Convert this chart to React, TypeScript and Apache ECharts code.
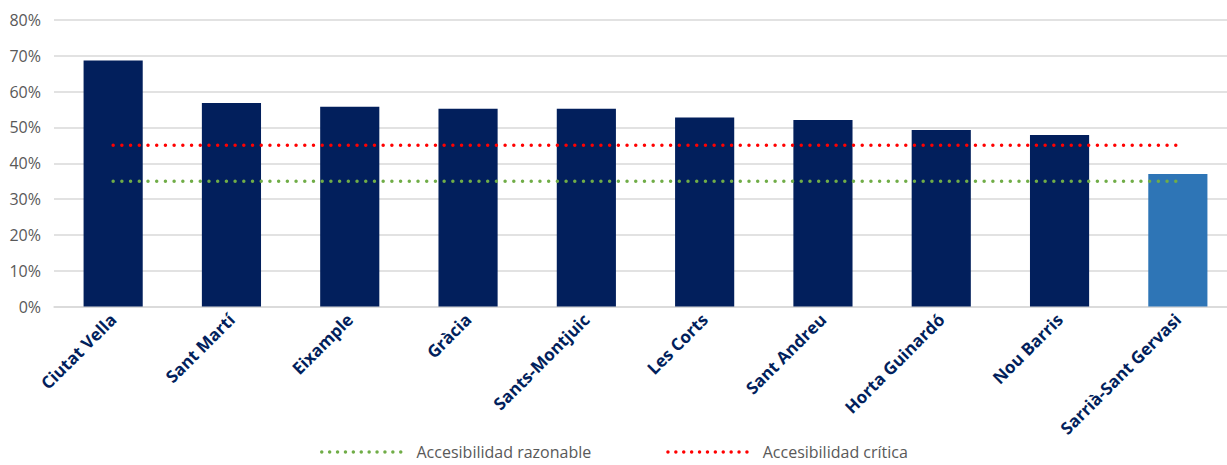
import React, { useEffect, useRef } from "react";
import * as echarts from "echarts";

const categories = [
  "Ciutat Vella",
  "Sant Martí",
  "Eixample",
  "Gràcia",
  "Sants-Montjuic",
  "Les Corts",
  "Sant Andreu",
  "Horta Guinardó",
  "Nou Barris",
  "Sarrià-Sant Gervasi",
];
const accessValues = [68.7, 56.8, 55.8, 55.2, 55.2, 52.8, 52.1, 49.3, 47.9, 37.0];
const highlightIndex = 9;
const reasonableLevel = categories.map(() => 35);
const criticalLevel = categories.map(() => 45);
const yTicks = { min: 0, max: 80, interval: 10 };
const legendNames = ["Accesibilidad razonable", "Accesibilidad crítica"];

const NAVY = "#021F5C";
const LIGHT = "#2E75B6";
const GREEN = "#70AD47";
const RED = "#FF0000";
const FONT = "'Open Sans', 'Noto Sans', sans-serif";

// dotted legend icon: 11 round dots
const DOT_R = 1.75;
const DOT_STEP = 7.9;
const DOT_COUNT = 11;
let dotPath = "path://";
for (let i = 0; i < DOT_COUNT; i++) {
  const cx = DOT_R + i * DOT_STEP;
  dotPath += `M${cx - DOT_R},${DOT_R}a${DOT_R},${DOT_R} 0 1,0 ${2 * DOT_R},0a${DOT_R},${DOT_R} 0 1,0 ${-2 * DOT_R},0Z`;
}
const ICON_W = 2 * DOT_R + (DOT_COUNT - 1) * DOT_STEP;
const ICON_H = 2 * DOT_R;

export default function App() {
  const ref = useRef<HTMLDivElement>(null);
  useEffect(() => {
    if (!ref.current) return;
    const chart = echarts.init(ref.current, undefined, { renderer: "svg" });
    const dotted = (color: string) => ({
      color,
      width: 3.5,
      type: [0.01, 8.7] as any,
      cap: "round" as any,
    });
    chart.setOption({
      animation: false,
      textStyle: { fontFamily: FONT },
      grid: { left: 54, top: 20, width: 1183, height: 286.5, containLabel: false },
      xAxis: {
        type: "category",
        data: categories,
        axisTick: { show: false },
        axisLine: { lineStyle: { color: "#D9D9D9", width: 1.5 } },
        axisLabel: {
          rotate: 45,
          interval: 0,
          color: NAVY,
          fontWeight: "bold",
          fontSize: 17,
          fontFamily: FONT,
          margin: 10,
        },
      },
      yAxis: {
        type: "value",
        min: yTicks.min,
        max: yTicks.max,
        interval: yTicks.interval,
        axisLine: { show: false },
        axisTick: { show: false },
        splitLine: { lineStyle: { color: "#D9D9D9", width: 1.5 } },
        axisLabel: {
          formatter: "{value}%",
          color: "#595959",
          fontSize: 16,
          fontFamily: FONT,
          margin: 13,
        },
      },
      legend: {
        bottom: 0,
        left: 315,
        itemWidth: ICON_W,
        itemHeight: ICON_H,
        itemGap: 75,
        icon: dotPath,
        data: legendNames,
        textStyle: { color: "#595959", fontSize: 16, fontFamily: FONT, padding: [0, 0, 0, 9] },
      },
      series: [
        {
          type: "bar",
          name: "Accesibilidad",
          barWidth: "50%",
          data: accessValues.map((v, i) => ({
            value: v,
            itemStyle: { color: i === highlightIndex ? LIGHT : NAVY },
          })),
          z: 1,
        },
        {
          type: "line",
          name: legendNames[0],
          data: reasonableLevel,
          symbol: "none",
          lineStyle: dotted(GREEN),
          itemStyle: { color: GREEN },
          z: 3,
        },
        {
          type: "line",
          name: legendNames[1],
          data: criticalLevel,
          symbol: "none",
          lineStyle: dotted(RED),
          itemStyle: { color: RED },
          z: 3,
        },
      ],
    });
    return () => chart.dispose();
  }, []);
  return (
    <div style={{ position: "absolute", left: 0, top: 0, width: 1227, height: 465, overflow: "hidden" }}>
      <div ref={ref} style={{ width: 1240, height: 465 }} />
    </div>
  );
}
